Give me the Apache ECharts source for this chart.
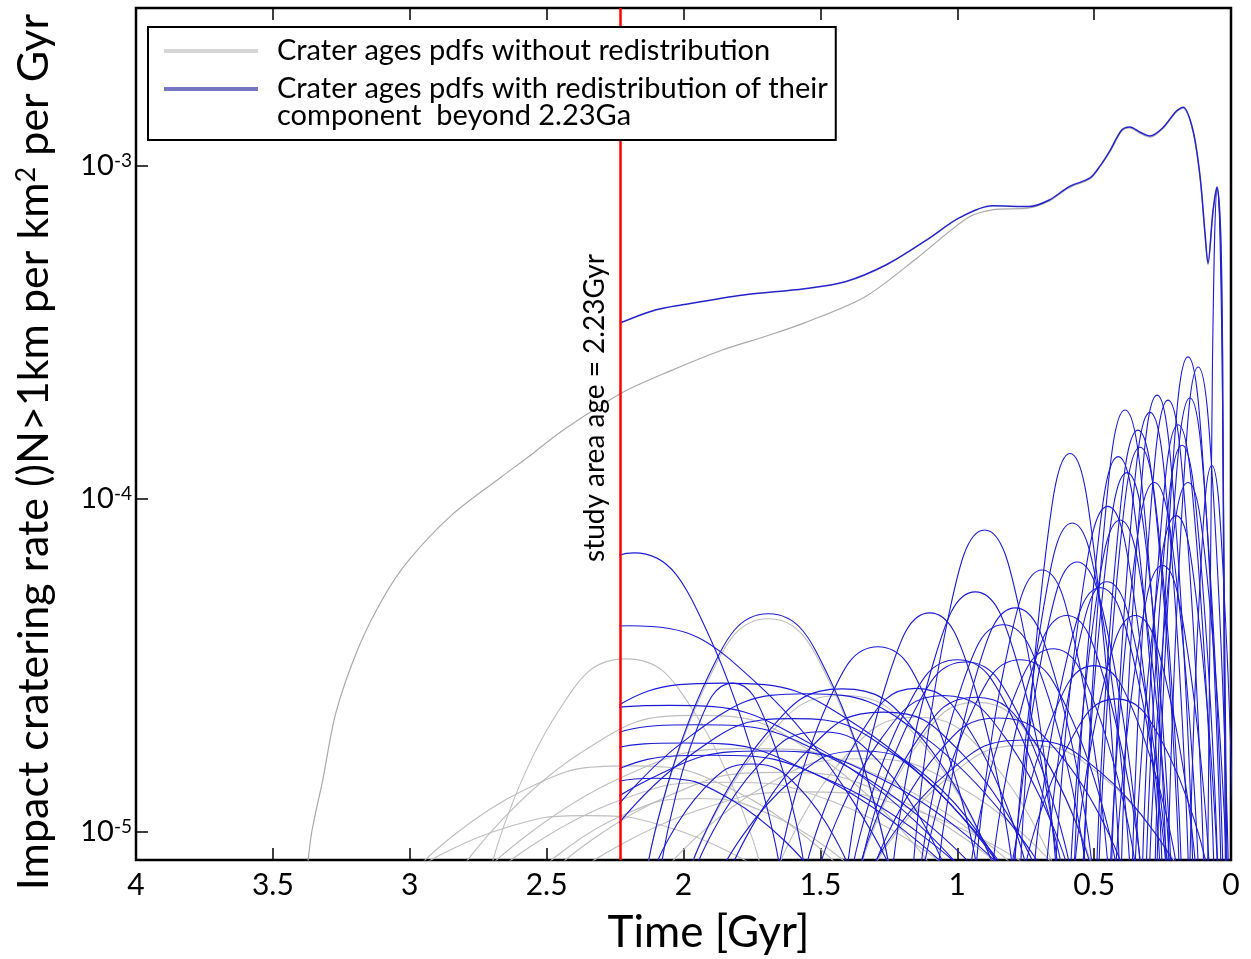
<!DOCTYPE html>
<html><head><meta charset="utf-8">
<script src="https://cdn.jsdelivr.net/npm/echarts@6/dist/echarts.min.js"></script>
<style>html,body{margin:0;padding:0;background:#fff}#c{width:1251px;height:959px}</style>
</head><body><div id="c"></div>
<script>
// ---------- axis ranges / ticks ----------
const X_MIN = 0, X_MAX = 4, X_STEP = 0.5;
const Y_MIN = 8.24e-6, Y_MAX = 2.98e-3;
const STUDY_AGE = 2.23;
const yTickExponents = [-5, -4, -3];

// ---------- text ----------
const xAxisTitle = 'Time [Gyr]';
const yAxisTitle = 'Impact cratering rate ()N>1km per km{sup|2} per Gyr';
const studyLabel = 'study area age = 2.23Gyr';
const legendWithout = 'Crater ages pdfs without redistribution';
const legendWith = '\nCrater ages pdfs with redistribution of their\ncomponent  beyond 2.23Ga';

// ---------- summed pdfs ----------
const graySum = [[3.38,7.0e-6],[3.358,1.0e-5],[3.318,1.43e-5],[3.27,2.28e-5],[3.186,3.6e-5],[3.095,5.08e-5],[3.007,6.5e-5],[2.85,8.9e-5],[2.668,1.16e-4],[2.55,1.37e-4],[2.449,1.59e-4],[2.226,2.08e-4],[2.05,2.42e-4],[1.858,2.80e-4],[1.7,3.08e-4],[1.558,3.38e-4],[1.336,4.05e-4],[1.142,5.33e-4],[0.963,6.98e-4],[0.872,7.38e-4],[0.737,7.48e-4],[0.664,7.85e-4],[0.591,8.6e-4],[0.515,9.15e-4],[0.478,1.0e-3],[0.44,1.11e-3],[0.40,1.27e-3],[0.37,1.30e-3],[0.33,1.25e-3],[0.296,1.22e-3],[0.25,1.29e-3],[0.2,1.45e-3],[0.175,1.49e-3],[0.139,1.27e-3],[0.113,9.2e-4],[0.095,6.2e-4],[0.084,5.05e-4],[0.066,7.2e-4],[0.051,8.6e-4],[0.038,6.2e-4],[0.031,2.7e-4],[0.026,4.6e-5],[0.018,5e-6]];
const blueSum = [[2.23,3.38e-4],[2.1,3.7e-4],[2.004,3.83e-4],[1.781,4.10e-4],[1.558,4.28e-4],[1.409,4.49e-4],[1.259,5.05e-4],[1.111,6.0e-4],[0.993,6.98e-4],[0.872,7.59e-4],[0.737,7.55e-4],[0.664,7.9e-4],[0.591,8.67e-4],[0.515,9.2e-4],[0.478,1.0e-3],[0.44,1.12e-3],[0.40,1.28e-3],[0.37,1.31e-3],[0.33,1.26e-3],[0.296,1.23e-3],[0.25,1.3e-3],[0.2,1.46e-3],[0.175,1.50e-3],[0.139,1.28e-3],[0.113,9.3e-4],[0.095,6.3e-4],[0.084,5.1e-4],[0.066,7.3e-4],[0.051,8.65e-4],[0.038,6.3e-4],[0.031,2.7e-4],[0.026,4.6e-5],[0.018,5e-6]];

// ---------- individual crater pdfs, without redistribution (gray) ----------
const grayPdfs = [
 [[1.72,8e-6],[1.965,2.32e-5],[2.21,3.31e-5],[2.455,2.32e-5],[2.70,8e-6]],
 [[1.1,8e-6],[1.525,1.73e-5],[1.95,2.24e-5],[2.375,1.73e-5],[2.8,8e-6]],
 [[0.8,8e-6],[1.275,1.46e-5],[1.75,1.78e-5],[2.225,1.46e-5],[2.7,8e-6]],
 [[1.05,8e-6],[1.45,1.23e-5],[1.85,1.41e-5],[2.25,1.23e-5],[2.65,8e-6]],
 [[0.85,8e-6],[1.25,1.29e-5],[1.65,1.51e-5],[2.05,1.29e-5],[2.45,8e-6]],
 [[1.4,8e-6],[1.675,1.12e-5],[1.95,1.26e-5],[2.225,1.12e-5],[2.5,8e-6]],
 [[0.75,8e-6],[1.15,1.16e-5],[1.55,1.32e-5],[1.95,1.16e-5],[2.35,8e-6]],
 [[0.87,8e-6],[1.145,1.92e-5],[1.42,2.57e-5],[1.695,1.92e-5],[1.97,8e-6]],
 [[0.51,8e-6],[0.72,1.86e-5],[0.93,2.45e-5],[1.14,1.86e-5],[1.35,8e-6]],
 [[0.2,8e-6],[0.475,1.48e-5],[0.75,1.82e-5],[1.025,1.48e-5],[1.3,8e-6]],
 [[1.25,8e-6],[1.47,2.86e-5],[1.69,4.37e-5],[1.91,2.86e-5],[2.13,8e-6]],
 [[1.75,8e-6],[2.05,1.03e-5],[2.35,1.12e-5],[2.65,1.03e-5],[2.95,8e-6]],
 [[0.65,8e-6],[0.9,1.72e-5],[1.15,2.21e-5],[1.4,1.72e-5],[1.65,8e-6]],
 [[1.44,8e-6],[1.82,1.34e-5],[2.2,1.58e-5],[2.58,1.34e-5],[2.96,8e-6]],
 [[0.65,8e-6],[1.0,1.38e-5],[1.35,1.66e-5],[1.7,1.38e-5],[2.05,8e-6]]
];

// ---------- individual crater pdfs, with redistribution (blue) ----------
const bluePdfs = [
 [[1.65,8e-6],[1.915,4.02e-5],[2.18,6.89e-5],[2.445,4.02e-5],[2.71,8e-6]],
 [[1.25,8e-6],[1.725,2.76e-5],[2.2,4.16e-5],[2.675,2.76e-5],[3.15,8e-6]],
 [[0.84,8e-6],[1.35,2.05e-5],[1.86,2.80e-5],[2.37,2.05e-5],[2.88,8e-6]],
 [[1.0,8e-6],[1.525,1.82e-5],[2.05,2.40e-5],[2.575,1.82e-5],[3.1,8e-6]],
 [[0.95,8e-6],[1.45,1.65e-5],[1.95,2.10e-5],[2.45,1.65e-5],[2.95,8e-6]],
 [[1.05,8e-6],[1.525,1.50e-5],[2.0,1.85e-5],[2.475,1.50e-5],[2.95,8e-6]],
 [[1.0,8e-6],[1.45,1.41e-5],[1.9,1.70e-5],[2.35,1.41e-5],[2.8,8e-6]],
 [[0.85,8e-6],[1.275,1.44e-5],[1.7,1.75e-5],[2.125,1.44e-5],[2.55,8e-6]],
 [[0.85,8e-6],[1.225,1.70e-5],[1.6,2.19e-5],[1.975,1.70e-5],[2.35,8e-6]],
 [[0.7,8e-6],[1.125,1.94e-5],[1.55,2.60e-5],[1.975,1.94e-5],[2.4,8e-6]],
 [[1.25,8e-6],[1.47,2.93e-5],[1.69,4.52e-5],[1.91,2.93e-5],[2.13,8e-6]],
 [[1.56,8e-6],[1.69,2.05e-5],[1.82,2.80e-5],[1.95,2.05e-5],[2.08,8e-6]],
 [[0.87,8e-6],[1.145,1.98e-5],[1.42,2.69e-5],[1.695,1.98e-5],[1.97,8e-6]],
 [[0.93,8e-6],[1.11,2.47e-5],[1.29,3.60e-5],[1.47,2.47e-5],[1.65,8e-6]],
 [[0.72,8e-6],[0.995,1.76e-5],[1.27,2.29e-5],[1.545,1.76e-5],[1.82,8e-6]],
 [[0.8,8e-6],[0.95,2.95e-5],[1.1,4.55e-5],[1.25,2.95e-5],[1.4,8e-6]],
 [[0.59,8e-6],[0.78,2.28e-5],[0.97,3.24e-5],[1.16,2.28e-5],[1.35,8e-6]],
 [[0.64,8e-6],[0.77,4.53e-5],[0.9,8.07e-5],[1.03,4.53e-5],[1.16,8e-6]],
 [[0.634,8e-6],[0.784,3.29e-5],[0.934,5.26e-5],[1.084,3.29e-5],[1.234,8e-6]],
 [[0.62,8e-6],[0.81,2.31e-5],[1.0,3.29e-5],[1.19,2.31e-5],[1.38,8e-6]],
 [[0.514,8e-6],[0.724,1.90e-5],[0.934,2.54e-5],[1.144,1.90e-5],[1.354,8e-6]],
 [[0.532,8e-6],[0.682,2.77e-5],[0.832,4.19e-5],[0.982,2.77e-5],[1.132,8e-6]],
 [[0.508,8e-6],[0.648,3.02e-5],[0.788,4.71e-5],[0.928,3.02e-5],[1.068,8e-6]],
 [[0.42,8e-6],[0.595,2.31e-5],[0.77,3.29e-5],[0.945,2.31e-5],[1.12,8e-6]],
 [[0.205,8e-6],[0.48,1.52e-5],[0.755,1.89e-5],[1.03,1.52e-5],[1.305,8e-6]],
 [[0.45,8e-6],[0.57,3.68e-5],[0.69,6.12e-5],[0.81,3.68e-5],[0.93,8e-6]],
 [[0.408,8e-6],[0.498,6.75e-5],[0.588,1.37e-4],[0.678,6.75e-5],[0.768,8e-6]],
 [[0.37,8e-6],[0.475,4.70e-5],[0.58,8.47e-5],[0.685,4.70e-5],[0.79,8e-6]],
 [[0.332,8e-6],[0.447,3.84e-5],[0.562,6.47e-5],[0.677,3.84e-5],[0.792,8e-6]],
 [[0.238,8e-6],[0.358,3.35e-5],[0.478,5.41e-5],[0.598,3.35e-5],[0.718,8e-6]],
 [[0.233,8e-6],[0.343,3.46e-5],[0.453,5.64e-5],[0.563,3.46e-5],[0.673,8e-6]],
 [[0.225,8e-6],[0.315,4.77e-5],[0.405,8.65e-5],[0.495,4.77e-5],[0.585,8e-6]],
 [[0.252,8e-6],[0.332,6.61e-5],[0.412,1.34e-4],[0.492,6.61e-5],[0.572,8e-6]],
 [[0.22,8e-6],[0.30,6.09e-5],[0.38,1.20e-4],[0.46,6.09e-5],[0.54,8e-6]],
 [[0.237,8e-6],[0.312,8.44e-5],[0.387,1.85e-4],[0.462,8.44e-5],[0.537,8e-6]],
 [[0.182,8e-6],[0.257,6.97e-5],[0.332,1.43e-4],[0.407,6.97e-5],[0.482,8e-6]],
 [[0.156,8e-6],[0.226,8.35e-5],[0.296,1.82e-4],[0.366,8.35e-5],[0.436,8e-6]],
 [[0.10,8e-6],[0.165,8.89e-5],[0.23,1.98e-4],[0.295,8.89e-5],[0.36,8e-6]],
 [[0.063,8e-6],[0.128,7.81e-5],[0.193,1.67e-4],[0.258,7.81e-5],[0.323,8e-6]],
 [[0.049,8e-6],[0.114,7.04e-5],[0.179,1.45e-4],[0.244,7.04e-5],[0.309,8e-6]],
 [[0.037,8e-6],[0.097,1.11e-4],[0.157,2.67e-4],[0.217,1.11e-4],[0.277,8e-6]],
 [[0.01,8e-6],[0.065,1.05e-4],[0.12,2.49e-4],[0.175,1.05e-4],[0.23,8e-6]],
 [[0.03,8e-6],[0.09,8.98e-5],[0.15,2.01e-4],[0.21,8.98e-5],[0.27,8e-6]],
 [[0.017,8e-6],[0.087,5.81e-5],[0.157,1.12e-4],[0.227,5.81e-5],[0.297,8e-6]],
 [[0.6,8e-6],[0.825,1.92e-5],[1.05,2.57e-5],[1.275,1.92e-5],[1.5,8e-6]],
 [[0.35,8e-6],[0.5,2.45e-5],[0.65,3.55e-5],[0.8,2.45e-5],[0.95,8e-6]],
 [[0.2,8e-6],[0.35,2.24e-5],[0.5,3.16e-5],[0.65,2.24e-5],[0.8,8e-6]],
 [[0.13,8e-6],[0.24,2.91e-5],[0.35,4.47e-5],[0.46,2.91e-5],[0.57,8e-6]],
 [[0.08,8e-6],[0.165,3.77e-5],[0.25,6.31e-5],[0.335,3.77e-5],[0.42,8e-6]],
 [[-0.01,8e-6],[0.03,6.32e-5],[0.07,1.26e-4],[0.11,6.32e-5],[0.15,8e-6]],
 [[0.015,8e-6],[0.0325,2.65e-4],[0.05,8.51e-4],[0.0675,2.65e-4],[0.085,8e-6]],
 [[0.19,8e-6],[0.265,7.6e-5],[0.34,1.61e-4],[0.415,7.6e-5],[0.49,8e-6]],
 [[0.12,8e-6],[0.2,5.8e-5],[0.28,1.12e-4],[0.36,5.8e-5],[0.44,8e-6]],
 [[0.05,8e-6],[0.125,4.88e-5],[0.2,8.91e-5],[0.275,4.88e-5],[0.35,8e-6]],
 [[0.33,8e-6],[0.465,2.91e-5],[0.6,4.47e-5],[0.735,2.91e-5],[0.87,8e-6]],
 [[0.09,8e-6],[0.255,1.89e-5],[0.42,2.51e-5],[0.585,1.89e-5],[0.75,8e-6]],
 [[1.4,8e-6],[1.575,1.35e-5],[1.75,1.6e-5],[1.925,1.35e-5],[2.1,8e-6]],
 [[1.05,8e-6],[1.275,1.59e-5],[1.5,2.0e-5],[1.725,1.59e-5],[1.95,8e-6]],
 [[0.85,8e-6],[1.1,1.44e-5],[1.35,1.75e-5],[1.6,1.44e-5],[1.85,8e-6]],
 [[0.75,8e-6],[0.95,1.99e-5],[1.15,2.7e-5],[1.35,1.99e-5],[1.55,8e-6]],
 [[0.4,8e-6],[0.625,1.71e-5],[0.85,2.2e-5],[1.075,1.71e-5],[1.3,8e-6]],
 [[1.55,8e-6],[1.825,1.25e-5],[2.1,1.45e-5],[2.375,1.25e-5],[2.65,8e-6]],
 [[0.14,8e-6],[0.205,9.12e-5],[0.27,2.05e-4],[0.335,9.12e-5],[0.4,8e-6]],
 [[0.26,8e-6],[0.355,5.12e-5],[0.45,9.5e-5],[0.545,5.12e-5],[0.64,8e-6]]
];

// ---------- layout ----------
const FONT = 'Lato';
const W = 1251;
const G = {left: 136, right: 20, top: 8, bottom: 99};
const plotW = W - G.left - G.right;
const studyLeft = G.left + plotW * (X_MAX - STUDY_AGE) / (X_MAX - X_MIN);

const GRAY = '#bdbdbd', BLUE = '#1a1ad6';

const chart = echarts.init(document.getElementById('c'), null, {renderer: 'canvas'});

function yLabel(v) {
  const l = Math.log10(v), e = Math.round(l);
  if (Math.abs(l - e) < 1e-6 && yTickExponents.indexOf(e) >= 0) return '10{sup|' + e + '}';
  return '';
}

const series = [];
grayPdfs.forEach(d => series.push({
  type: 'line', name: 'without', data: d, xAxisIndex: 0, yAxisIndex: 0,
  smooth: 0.5, showSymbol: false, silent: true,
  lineStyle: {color: GRAY, width: 1.1}, itemStyle: {color: GRAY}
}));
series.push({
  type: 'line', name: 'without', data: graySum, xAxisIndex: 0, yAxisIndex: 0,
  smooth: 0.3, showSymbol: false, silent: true,
  lineStyle: {color: '#a9a9a9', width: 1.2}, itemStyle: {color: GRAY}
});
bluePdfs.forEach(d => series.push({
  type: 'line', name: 'with', data: d, xAxisIndex: 2, yAxisIndex: 1,
  smooth: 0.5, showSymbol: false, silent: true,
  lineStyle: {color: BLUE, width: 1.1}, itemStyle: {color: BLUE}
}));
series.push({
  type: 'line', name: 'with', data: blueSum, xAxisIndex: 2, yAxisIndex: 1,
  smooth: 0.3, showSymbol: false, silent: true,
  lineStyle: {color: '#2323c8', width: 1.5}, itemStyle: {color: BLUE}
});
series.push({
  type: 'line', name: 'study', data: [], xAxisIndex: 0, yAxisIndex: 0, z: 3,
  markLine: {
    silent: true, symbol: ['none', 'none'],
    lineStyle: {color: '#ff0000', width: 2.5, type: 'solid'},
    label: {show: true, position: 'insideMiddleTop', formatter: studyLabel,
      color: '#000', fontFamily: FONT, fontSize: 28, distance: 12, padding: [0, 0, 0, 52]},
    data: [{xAxis: STUDY_AGE}]
  }
});

const tickStyle = {show: true, inside: true, length: 12, lineStyle: {color: '#000', width: 1.5}};
const noLine = {show: false, onZero: false};
const hidden = {show: false, axisLine: {show: false, onZero: false}, axisTick: {show: false}, axisLabel: {show: false}, splitLine: {show: false}};

chart.setOption({
  animation: false,
  backgroundColor: '#fff',
  grid: [
    {left: G.left, right: G.right, top: G.top, bottom: G.bottom, outerBoundsMode: 'none', containLabel: false,
     show: true, borderColor: '#000', borderWidth: 2.5, backgroundColor: 'transparent'},
    {left: studyLeft, right: G.right, top: G.top, bottom: G.bottom, outerBoundsMode: 'none', containLabel: false, show: false}
  ],
  legend: {
    orient: 'vertical', left: 148, top: 27, z: 20,
    padding: [9.5, 8, 9.5, 16], itemGap: -18,
    itemWidth: 94, itemHeight: 4,
    borderColor: '#000', borderWidth: 2, backgroundColor: '#fff',
    selectedMode: false,
    textStyle: {fontFamily: FONT, fontSize: 29, color: '#000', lineHeight: 27, padding: [0, 0, 0, 14]},
    formatter: n => n === 'without' ? legendWithout : legendWith,
    data: [
      {name: 'without', icon: 'rect', itemStyle: {color: '#d6d6d6'}},
      {name: 'with', icon: 'rect', itemStyle: {color: '#7676c2'}}
    ]
  },
  xAxis: [
    {type: 'value', gridIndex: 0, position: 'bottom', min: X_MIN, max: X_MAX, interval: X_STEP, inverse: true,
     axisLine: noLine, axisTick: tickStyle, splitLine: {show: false},
     axisLabel: {fontFamily: FONT, fontSize: 30, color: '#000', margin: 10},
     name: xAxisTitle, nameLocation: 'middle', nameGap: 51,
     nameTextStyle: {fontFamily: FONT, fontSize: 44, color: '#000', padding: [0, 0, 0, 50]}},
    {type: 'value', gridIndex: 0, position: 'top', min: X_MIN, max: X_MAX, interval: X_STEP, inverse: true,
     axisLine: noLine, axisTick: tickStyle, splitLine: {show: false}, axisLabel: {show: false}},
    Object.assign({type: 'value', gridIndex: 1, position: 'bottom', min: X_MIN, max: STUDY_AGE, inverse: true}, hidden)
  ],
  yAxis: [
    {type: 'log', logBase: 10, gridIndex: 0, position: 'left', min: Y_MIN, max: Y_MAX,
     axisLine: noLine, axisTick: tickStyle, splitLine: {show: false},
     axisLabel: {formatter: yLabel, fontFamily: FONT, fontSize: 29, color: '#000', margin: 4,
       rich: {sup: {fontFamily: FONT, fontSize: 19, color: '#000', verticalAlign: 'top'}}},
     name: yAxisTitle, nameLocation: 'middle', nameGap: 80,
     nameTextStyle: {fontFamily: FONT, fontSize: 43, color: '#000', padding: [0, 36, 0, 0],
       rich: {sup: {fontFamily: FONT, fontSize: 27, color: '#000', verticalAlign: 'top'}}}},
    Object.assign({type: 'log', logBase: 10, gridIndex: 1, position: 'left', min: Y_MIN, max: Y_MAX}, hidden)
  ],
  series: series
});
</script></body></html>
